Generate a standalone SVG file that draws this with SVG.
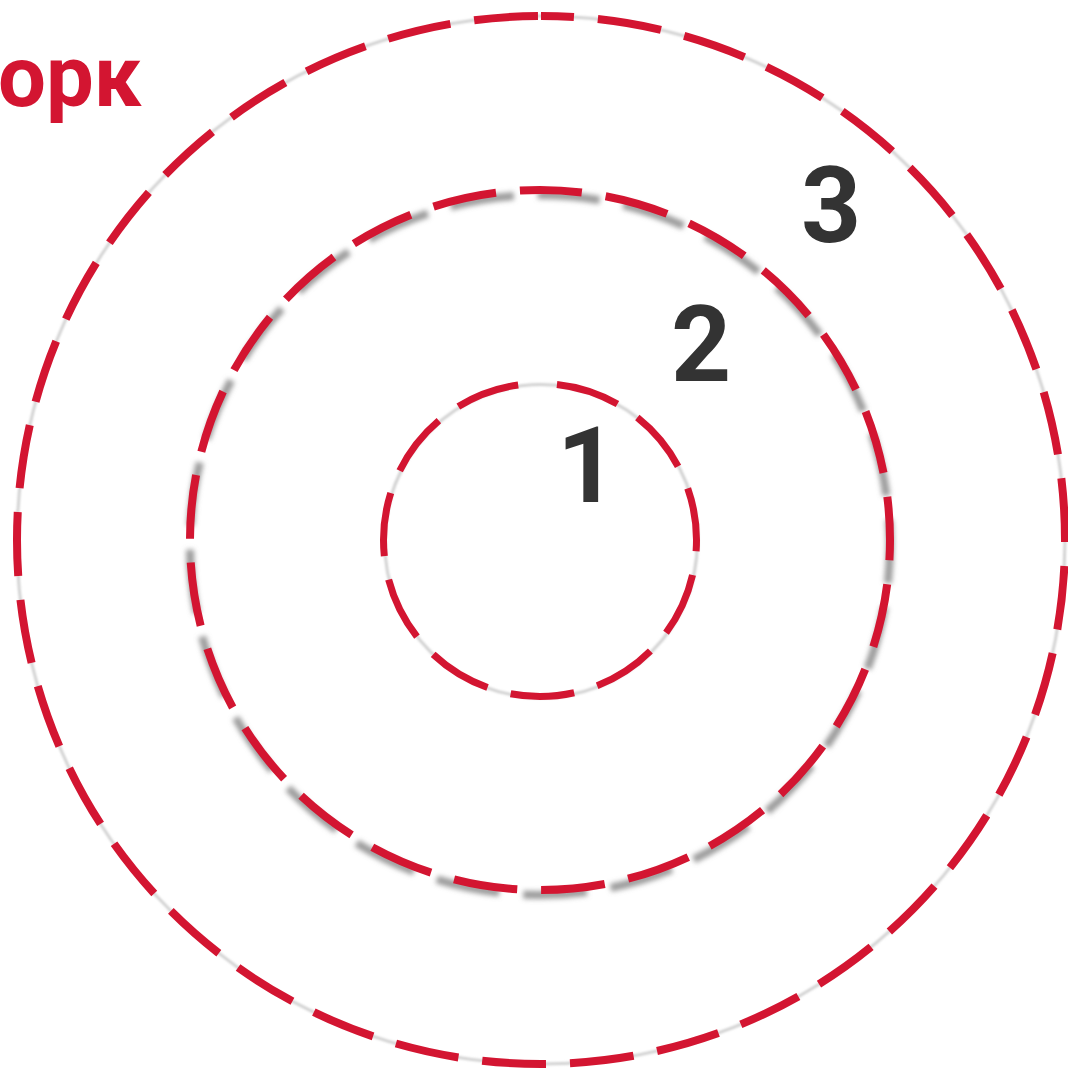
<svg xmlns="http://www.w3.org/2000/svg" width="1068" height="1080" viewBox="0 0 1068 1080">
<defs>
<style>
.dash{fill:none;stroke:#D31531;stroke-dasharray:64 24;}
.guide{fill:none;stroke:#d2d2d2;stroke-width:3;}
.num{font-family:Roboto,"Liberation Sans",sans-serif;font-weight:700;font-size:105px;fill:#333333;text-anchor:middle;}
.city{font-family:Roboto,"Liberation Sans",sans-serif;font-weight:700;font-size:85px;fill:#D31531;}
</style>
<filter id="soft" x="-10%" y="-10%" width="120%" height="120%"><feGaussianBlur stdDeviation="1.2"/></filter>
<filter id="shadow" x="-10%" y="-10%" width="120%" height="120%"><feGaussianBlur stdDeviation="2.5"/></filter>
</defs>
<rect width="1068" height="1080" fill="#ffffff"/>
<g id="ring3">
<circle class="guide" filter="url(#soft)" cx="0" cy="0" r="524" transform="translate(541 540) rotate(-90)"/>
<circle class="dash" stroke-width="8" stroke-dashoffset="31" cx="0" cy="0" r="524" transform="translate(541 540) rotate(-90)"/>
</g>
<g id="ring2">
<circle fill="none" stroke="#8a8a8a" stroke-opacity="0.85" stroke-width="8" stroke-dasharray="64 24" stroke-dashoffset="4" filter="url(#shadow)" cx="0" cy="0" r="350" transform="translate(540 545) rotate(-90)"/>
<circle class="dash" stroke-width="8" stroke-dashoffset="22" cx="0" cy="0" r="350" transform="translate(540 540) rotate(-90)"/>
</g>
<g id="ring1">
<circle class="guide" filter="url(#soft)" cx="0" cy="0" r="156.5" transform="translate(541 541) rotate(-90)"/>
<circle class="dash" stroke-width="7" stroke-dashoffset="71" cx="0" cy="0" r="156.5" transform="translate(540 540) rotate(-90)"/>
</g>
<g id="labels">
<text class="num" x="587" y="502">1</text>
<text class="num" x="701" y="381">2</text>
<text class="num" x="831" y="242">3</text>
</g>
<g id="title">
<text class="city" x="-2" y="106">орк</text>
</g>
</svg>
